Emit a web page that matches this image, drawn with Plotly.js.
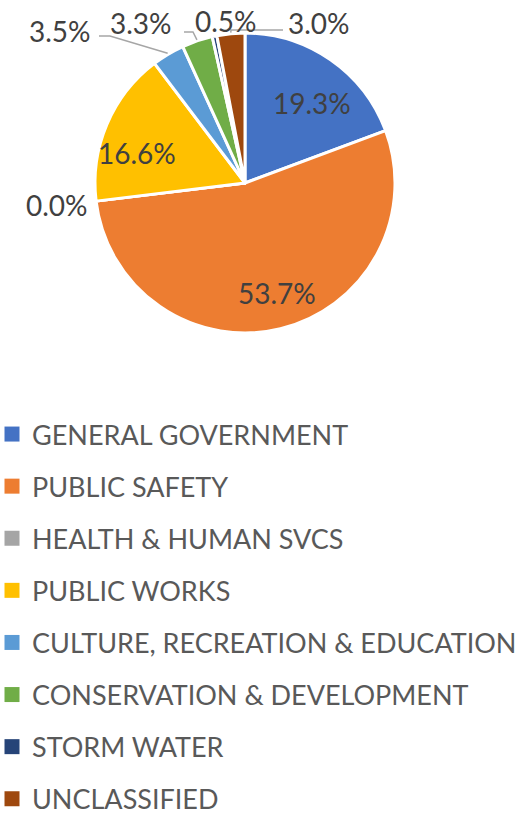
<!DOCTYPE html>
<html><head><meta charset="utf-8">
<script src="https://cdn.plot.ly/plotly-3.0.1.min.js"></script>
<style>html,body{margin:0;padding:0;background:#fff}#chart{width:521px;height:817px}</style>
</head><body><div id="chart"></div>
<script>
// ---- data ----
const categories = ["GENERAL GOVERNMENT","PUBLIC SAFETY","HEALTH & HUMAN SVCS","PUBLIC WORKS","CULTURE, RECREATION & EDUCATION","CONSERVATION & DEVELOPMENT","STORM WATER","UNCLASSIFIED"];
const shares = [19.3, 53.7, 0.0, 16.6, 3.5, 3.3, 0.5, 3.0];
const valueLabels = ["19.3%","53.7%","0.0%","16.6%","3.5%","3.3%","0.5%","3.0%"];
const colors = ["#4472C4","#ED7D31","#A5A5A5","#FFC000","#5B9BD5","#70AD47","#264478","#9E480E"];

// ---- layout geometry (pixels) ----
const W = 521, H = 817, CX = 245, CY = 183, R = 150;
const labelPos = [[312,103],[277,293],[57,205],[137,153],[60,31],[141,23],[226,21],[319,23]];
// leader line points after the slice anchor (null = no line)
const leaders = [null, null, null, null, [[110,36],[99,36]], [[193,32],[184,32]], null, [[231,30],[283,30]]];

const px = x => x / W, py = y => 1 - y / H;
const total = shares.reduce((a,b)=>a+b,0);
let cum = 0;
const mids = shares.map(v => { const m = (cum + v/2) / total * 2 * Math.PI; cum += v; return m; });

const annotations = valueLabels.map((t,i) => ({
  text: t, x: px(labelPos[i][0]), y: py(labelPos[i][1]), xref: 'paper', yref: 'paper',
  showarrow: false, xanchor: 'center', yanchor: 'middle',
  font: {family: 'Lato, sans-serif', size: 28, color: '#404040'}
}));

const shapes = [];
leaders.forEach((pts,i) => {
  if (!pts) return;
  const ax = CX + (R+1) * Math.sin(mids[i]), ay = CY - (R+1) * Math.cos(mids[i]);
  let path = `M${px(ax)},${py(ay)}`;
  pts.forEach(p => { path += ` L${px(p[0])},${py(p[1])}`; });
  shapes.push({type:'path', path, xref:'paper', yref:'paper', line:{color:'#A6A6A6', width:1.5}});
});

const traces = [{
  type: 'pie', labels: categories, values: shares, sort: false, direction: 'clockwise', rotation: 0,
  marker: {colors, line: {color: '#FFFFFF', width: 3}},
  textinfo: 'none', hoverinfo: 'label+percent', showlegend: false,
  domain: {x: [px(CX-R), px(CX+R)], y: [py(CY+R), py(CY-R)]}
}];
categories.forEach((c,i) => traces.push({
  type: 'scatter', mode: 'markers', x: [null], y: [null], name: c, legendgroup: 'g'+i,
  marker: {symbol: 'square', size: 15, color: colors[i]}, hoverinfo: 'skip'
}));

const layout = {
  width: W, height: H, margin: {l:0, r:0, t:0, b:0, autoexpand: false},
  paper_bgcolor: '#FFFFFF', plot_bgcolor: '#FFFFFF',
  xaxis: {visible: false}, yaxis: {visible: false},
  showlegend: true,
  legend: {orientation: 'v', x: px(-8), xanchor: 'left', y: py(410), yanchor: 'top',
    traceorder: 'grouped', tracegroupgap: 14.0,
    font: {family: 'Lato, sans-serif', size: 27, color: '#595959'}, bgcolor: 'rgba(0,0,0,0)'},
  annotations, shapes
};
Plotly.newPlot('chart', traces, layout, {staticPlot: true});
</script></body></html>
